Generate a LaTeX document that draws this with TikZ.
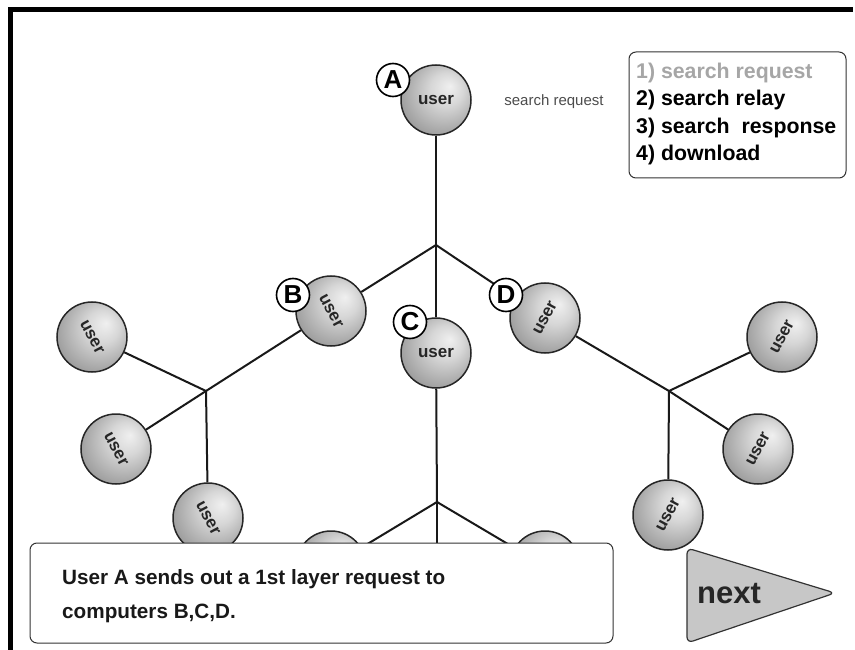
\documentclass[tikz,border=0pt]{standalone}
\usepackage{fontspec}
\setmainfont{Liberation Sans}
\pgfdeclareradialshading{userball}{\pgfpoint{10bp}{10bp}}{color(0bp)=(black!6); color(12bp)=(black!16); color(30bp)=(black!38); color(50bp)=(black!55)}
\tikzset{
  user/.style={circle, draw=black!85, line width=1.5pt, minimum size=70pt, inner sep=0pt, shading=userball},
  utext/.style={font=\bfseries\fontsize{17}{17}\selectfont, text=black!85, inner sep=0pt},
  tag/.style={circle, draw=black, line width=1.6pt, fill=white, minimum size=33pt, inner sep=0pt, font=\bfseries\fontsize{26}{26}\selectfont},
  wire/.style={line width=2pt, draw=black!90},
  boxed/.style={draw=black!80, line width=1pt, rounded corners=7pt, fill=white}
}
\begin{document}
\begin{tikzpicture}[x=1pt,y=-1pt]
\useasboundingbox (0,0) rectangle (855,650);
% frame
\draw[line width=5pt] (10,650) -- (10,10) -- (853,10);

% junctions
\coordinate (J1) at (436,245);
\coordinate (J2) at (206,391);
\coordinate (J3) at (669,391);
\coordinate (J4) at (437,502);
\coordinate (Cdown) at (437,560);

% users
\node[user, label={[utext]center:user}] (A) at (436,100) {};
\node[user, label={[utext, rotate=-62]center:user}] (B) at (331,311) {};
\node[user, label={[utext]center:user}] (C) at (436,353) {};
\node[user, label={[utext, rotate=62]center:user}] (D) at (545,318) {};
\node[user, label={[utext, rotate=-62]center:user}] (L1) at (92,337) {};
\node[user, label={[utext, rotate=-62]center:user}] (L2) at (116,449) {};
\node[user, label={[utext, rotate=-62]center:user}] (L3) at (208,518) {};
\node[user, label={[utext, rotate=62]center:user}] (R1) at (782,337) {};
\node[user, label={[utext, rotate=62]center:user}] (R2) at (758,449) {};
\node[user] (CL) at (331,566) {};
\node[user] (CR) at (545,566) {};

% connectors
\draw[wire] (A) -- (J1);
\draw[wire] (J1) -- (B);
\draw[wire] (J1) -- (C);
\draw[wire] (J1) -- (D);
\draw[wire] (B) -- (J2);
\draw[wire] (J2) -- (L1);
\draw[wire] (J2) -- (L2);
\draw[wire] (J2) -- (L3);
\draw[wire] (D) -- (J3);
\draw[wire] (J3) -- (R1);
\draw[wire] (J3) -- (R2);
\draw[wire] (C) -- (J4);
\draw[wire] (J4) -- (CL);
\draw[wire] (J4) -- (CR);
\draw[wire] (J4) -- (Cdown);

% next button
\draw[draw=black!80, line width=1.2pt, fill=black!22, rounded corners=6pt]
  (687,548) -- (835,593) -- (687,643) -- cycle;
\node[font=\bfseries\fontsize{31}{31}\selectfont, text=black!85] (nx) at (729,594) {next};

\node[user, label={[utext, rotate=62]center:user}] (R3) at (668,515) {};
\draw[wire] (J3) -- (R3);

% letter tags
\node[tag] (tA) at (393,80) {A};
\node[tag] (tB) at (293,295) {B};
\node[tag] (tC) at (410,322) {C};
\node[tag] (tD) at (506,295) {D};

% small label
\node[font=\fontsize{15}{15}\selectfont, text=black!70] (sr) at (554,102) {search request};

% legend
\node[boxed, minimum width=217pt, minimum height=126pt] (leg) at (737.5,115) {};
\node[anchor=north west, align=left, inner sep=0pt, font=\bfseries\fontsize{21.3}{27.3}\selectfont] (legt) at (636,63)
  {{\color{black!35}1) search request}\\2) search relay\\3) search\ \ response\\4) download};

% text box
\node[boxed, minimum width=583pt, minimum height=100pt] (tb) at (321.5,593) {};
\node[anchor=west, align=left, inner sep=0pt, font=\bfseries\fontsize{20.7}{34}\selectfont, text=black!90] (tbt) at (62,596)
  {User A sends out a 1st layer request to\\computers B,C,D.};
\end{tikzpicture}
\end{document}
